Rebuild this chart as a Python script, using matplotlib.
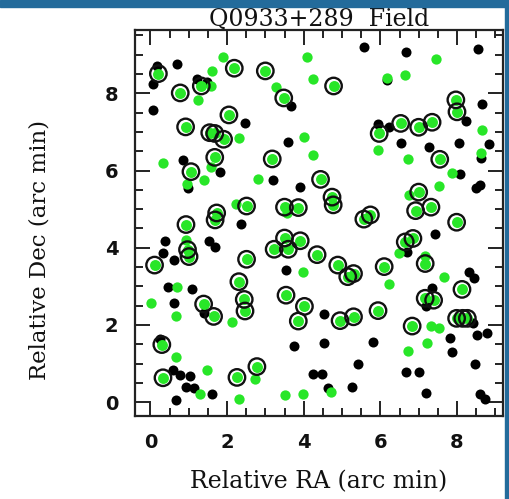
import matplotlib
matplotlib.use('Agg')
import matplotlib.pyplot as plt
from matplotlib.patches import Rectangle
from matplotlib.ticker import MultipleLocator

# Black dots
black_x = [0.17, 0.06, 0.69, 1.21, 1.47, 0.08, 2.47, 0.85, 1.81, 0.97, 3.67, 3.60, 3.19, 3.91, 5.58,
           6.68, 8.56, 6.18, 8.65, 8.23, 5.95, 6.23, 6.53, 7.26, 8.04, 8.83, 8.62, 8.09, 8.50, 8.60,
           2.36, 0.38, 1.53, 1.69, 0.33, 0.62, 0.46, 1.09, 0.61, 1.39, 0.24, 0.59, 0.78, 1.03, 0.94,
           1.15, 1.60, 0.68, 3.53, 4.52, 3.75, 4.52, 5.81, 5.42, 4.24, 4.48, 4.64, 5.26, 7.43, 6.70,
           8.30, 8.45, 7.35, 7.20, 8.43, 8.52, 8.78, 7.83, 7.86, 8.48, 6.68, 7.01, 7.19, 8.60, 8.74]
black_y = [8.71, 8.24, 8.76, 8.36, 8.30, 7.57, 7.24, 6.27, 5.97, 5.54, 7.67, 6.75, 5.75, 5.58, 9.19,
           9.08, 9.16, 8.34, 7.72, 7.28, 7.20, 7.13, 6.71, 6.62, 6.70, 6.68, 6.33, 5.91, 5.54, 5.62,
           4.61, 4.18, 4.18, 4.02, 3.87, 3.67, 2.97, 2.92, 2.57, 2.32, 1.64, 0.84, 0.71, 0.67, 0.39,
           0.36, 0.22, 0.05, 3.42, 2.29, 1.45, 1.52, 1.56, 1.00, 0.74, 0.74, 0.36, 0.40, 4.36, 3.89,
           3.36, 3.21, 2.95, 2.50, 2.05, 1.74, 1.79, 1.65, 1.30, 0.98, 0.77, 0.77, 0.23, 0.22, 0.07]

# Green dots (not circled)
green_x = [1.89, 1.62, 1.57, 1.25, 2.30, 0.32, 1.57, 1.39, 0.95, 2.82, 2.23, 4.08, 4.25, 3.29, 4.01,
           4.25, 5.95, 6.17, 6.64, 7.45, 8.65, 6.73, 8.63, 7.87, 7.52, 6.75, 0.92, 0.69, 0.03, 0.67,
           2.13, 0.66, 1.49, 1.29, 2.30, 2.73, 3.97, 3.52, 3.97, 4.71, 7.17, 6.48, 6.23, 7.65, 7.32,
           7.52, 7.23, 6.71, 3.56]
green_y = [8.93, 8.58, 8.20, 7.82, 6.83, 6.20, 6.09, 5.75, 5.65, 5.78, 5.12, 8.93, 8.36, 8.17, 6.87,
           6.40, 6.52, 8.40, 8.47, 8.88, 7.05, 6.29, 6.45, 5.94, 5.60, 5.37, 4.20, 2.99, 2.57, 2.22,
           2.08, 1.17, 0.83, 0.21, 0.08, 0.61, 3.37, 0.19, 0.22, 0.27, 3.78, 3.85, 3.06, 3.25, 1.97,
           1.91, 1.52, 1.33, 4.90]

# Green dots with circles
circ_x = [0.21, 2.19, 3.00, 1.33, 0.78, 2.05, 0.92, 1.55, 1.68, 1.91, 1.68, 1.06, 2.51, 1.73, 1.69,
          0.93, 3.48, 4.78, 5.97, 3.18, 4.44, 4.74, 4.77, 3.50, 3.86, 5.74, 5.57, 7.97, 8.00, 6.53,
          7.00, 7.35, 7.55, 7.00, 6.92, 7.32, 7.99, 0.97, 1.01, 0.11, 2.51, 2.31, 1.39, 2.45, 2.47,
          1.65, 0.30, 0.33, 2.26, 2.78, 3.50, 3.23, 3.60, 3.91, 4.35, 4.89, 5.15, 5.30, 6.10, 3.54,
          4.02, 3.86, 4.95, 5.30, 5.94, 6.65, 6.85, 7.17, 8.13, 7.17, 7.39, 7.99, 8.15, 8.27, 6.83]
circ_y = [8.51, 8.65, 8.58, 8.19, 8.01, 7.44, 7.13, 6.98, 6.96, 6.81, 6.34, 5.97, 5.08, 4.90, 4.72,
          4.60, 7.88, 8.19, 6.96, 6.30, 5.77, 5.31, 5.11, 5.05, 5.04, 4.85, 4.74, 7.83, 7.52, 7.22,
          7.12, 7.25, 6.29, 5.44, 4.96, 5.05, 4.66, 3.95, 3.77, 3.55, 3.70, 3.12, 2.54, 2.66, 2.36,
          2.22, 1.49, 0.63, 0.64, 0.92, 4.25, 3.96, 3.96, 4.18, 3.82, 3.55, 3.25, 3.33, 3.51, 2.77,
          2.48, 2.10, 2.11, 2.21, 2.37, 4.15, 4.24, 3.59, 2.92, 2.69, 2.64, 2.17, 2.17, 2.17, 1.97]

title_text = "Q0933+289  Field"
xlabel_text = "Relative RA (arc min)"
ylabel_text = "Relative Dec (arc min)"

GREEN = '#28e628'
W, H = 510, 499
fig = plt.figure(figsize=(W / 100, H / 100), dpi=100)
fig.patch.set_facecolor('white')
ax = fig.add_axes([135 / W, 1 - 416 / H, (503 - 135) / W, (416 - 30) / H])
ax.set_xlim(-0.4, 9.2)
ax.set_ylim(-0.36, 9.64)

ax.scatter(black_x, black_y, s=52, c='k', linewidths=0, zorder=2)
ax.scatter(green_x, green_y, s=55, c=GREEN, linewidths=0, zorder=3)
ax.scatter(circ_x, circ_y, s=62, c=GREEN, linewidths=0, zorder=3)
ax.scatter(circ_x, circ_y, s=140, facecolors='none', edgecolors='#111111', linewidths=1.7, zorder=4)

ax.xaxis.set_major_locator(MultipleLocator(2))
ax.xaxis.set_minor_locator(MultipleLocator(0.5))
ax.yaxis.set_major_locator(MultipleLocator(2))
ax.yaxis.set_minor_locator(MultipleLocator(0.5))
ax.tick_params(which='both', direction='in', top=True, right=True, width=1.4, color='#222222')
ax.tick_params(which='major', length=11, pad=12)
ax.tick_params(which='minor', length=5.5)
for lab in ax.get_xticklabels() + ax.get_yticklabels():
    lab.set_fontfamily('DejaVu Sans')
    lab.set_fontsize(14)
    lab.set_fontweight('bold')
    lab.set_color('#111111')
for sp in ax.spines.values():
    sp.set_linewidth(1.6)
    sp.set_color('#222222')

fig.text(319 / W, 1 - 19 / H, title_text, ha='center', va='center', fontsize=17,
         family='DejaVu Serif', color='#111111')
fig.text(319 / W, 1 - 482 / H, xlabel_text, ha='center', va='center', fontsize=17,
         family='DejaVu Serif', color='#111111')
fig.text(40 / W, 1 - 250 / H, ylabel_text, ha='center', va='center', rotation=90, fontsize=16.5,
         family='DejaVu Serif', color='#111111')

BLUE = '#236b9b'
fig.add_artist(Rectangle((0, 1 - 7 / H), 1, 7 / H, transform=fig.transFigure, color=BLUE, zorder=10))
fig.add_artist(Rectangle((505 / W, 0), 5 / W, 1, transform=fig.transFigure, color=BLUE, zorder=10))

fig.savefig('out.png', dpi=100)
